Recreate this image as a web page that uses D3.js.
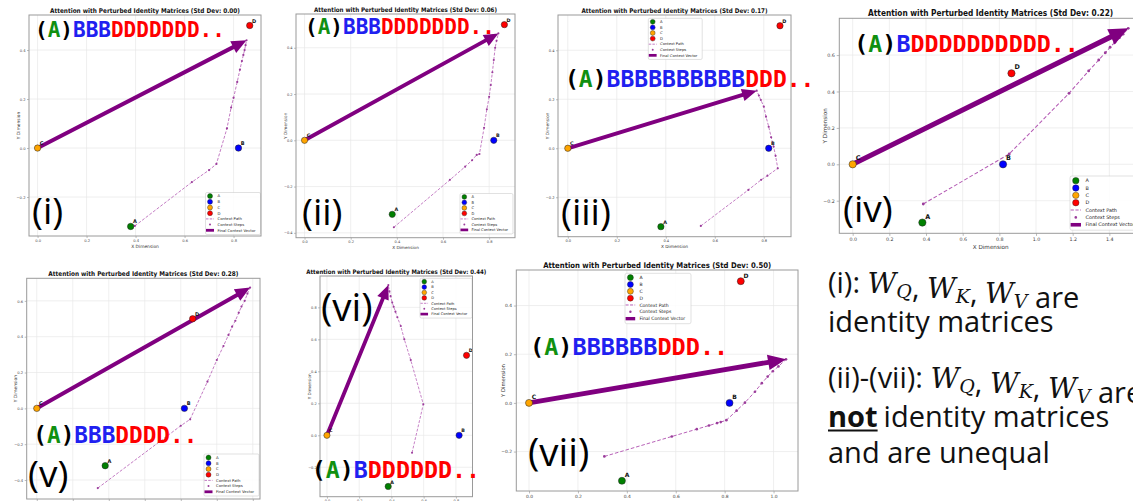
<!DOCTYPE html>
<html>
<head>
<meta charset="utf-8">
<script src="https://cdn.jsdelivr.net/npm/d3@7"></script>
<style>
html, body { margin: 0; padding: 0; background: #fff; overflow: hidden; }
svg { display: block; }
</style>
</head>
<body>
<svg id="fig" width="1133" height="501"></svg>
<script>
// token embeddings (same in every panel)
const tokenNames = ["A", "B", "C", "D"];
const tokenX = [0.38, 0.82, 0.0, 0.866];
const tokenY = [-0.32, 0.0, 0.0, 0.5];

const stdDevs = ["0.00", "0.06", "0.17", "0.22", "0.28", "0.44", "0.50"];
const panelNames = ["(i)", "(ii)", "(iii)", "(iv)", "(v)", "(vi)", "(vii)"];
const sequences = ["(A)BBBDDDDDDD..", "(A)BBBDDDDDDD..", "(A)BBBBBBBBBBDDD..", "(A)BDDDDDDDDDD..",
    "(A)BBBDDDD..", "(A)BDDDDDD..", "(A)BBBBBBDDD.."];
const legendLabels = ["A", "B", "C", "D", "Context Path", "Context Steps", "Final Context Vector"];

// context steps; last step = final context vector
const stepsI = [[0.397, -0.318], [0.63, -0.139], [0.70, -0.09], [0.73, -0.065], [0.773, 0.08], [0.79, 0.165],
    [0.80, 0.205], [0.815, 0.27], [0.826, 0.32], [0.834, 0.355], [0.84, 0.38], [0.845, 0.40], [0.849, 0.42], [0.853, 0.44]];
const stepsII = [[0.387, -0.376], [0.63, -0.171], [0.696, -0.114], [0.726, -0.086], [0.746, -0.063], [0.758, -0.059],
    [0.778, 0.054], [0.79, 0.134], [0.80, 0.188], [0.807, 0.239], [0.814, 0.294], [0.82, 0.347], [0.826, 0.40], [0.832, 0.43], [0.84, 0.462]];
const stepsIII = [[0.543, -0.317], [0.737, -0.17], [0.789, -0.129], [0.815, -0.112], [0.857, -0.082], [0.848, -0.031],
    [0.84, 0.007], [0.83, 0.045], [0.82, 0.088], [0.809, 0.129], [0.80, 0.17], [0.788, 0.197], [0.78, 0.215], [0.771, 0.235]];
const stepsIV = [[0.385, -0.218], [0.854, 0.057], [1.18, 0.39], [1.287, 0.513], [1.342, 0.573], [1.378, 0.613],
    [1.404, 0.643], [1.43, 0.67], [1.455, 0.695], [1.475, 0.715], [1.503, 0.747]];
const stepsV = [[0.339, -0.445], [0.8, -0.097], [0.852, -0.061], [0.948, 0.149], [1.0, 0.27], [1.037, 0.348],
    [1.065, 0.41], [1.085, 0.456], [1.103, 0.489], [1.122, 0.534], [1.137, 0.568], [1.155, 0.60], [1.17, 0.64], [1.185, 0.674]];
const stepsVI = [[0.528, -0.109], [0.598, 0.194], [0.52, 0.47], [0.48, 0.6], [0.458, 0.683], [0.437, 0.738],
    [0.425, 0.773], [0.414, 0.804], [0.405, 0.83], [0.395, 0.87], [0.388, 0.90], [0.381, 0.939]];
const stepsVII = [[0.308, -0.22], [0.584, -0.138], [0.686, -0.108], [0.736, -0.093], [0.769, -0.083], [0.784, -0.079],
    [0.807, -0.071], [0.849, -0.032], [0.883, 0.001], [0.924, 0.046], [0.952, 0.081], [0.976, 0.108], [0.997, 0.13], [1.02, 0.15], [1.051, 0.179]];
const allSteps = [stepsI, stepsII, stepsIII, stepsIV, stepsV, stepsVI, stepsVII];

// where each screenshot sits in the collage
const layout = [
    { frame: [29, 15, 261, 236], xd: [-0.035, 0.912], yd: [-0.359, 0.543], fs: 1.0, legend: [205.5, 192.5], seq: [35, 37, 21], tag: [32, 224, 37] },
    { frame: [296, 14, 515, 237.7], xd: [-0.037, 0.912], yd: [-0.421, 0.546], fs: 0.963, legend: [460, 193.5], seq: [305, 34, 21], tag: [302, 225, 37] },
    { frame: [558, 15, 791, 236.7], xd: [-0.04, 0.911], yd: [-0.361, 0.544], fs: 0.98, legend: [648.3, 18.3], seq: [565, 87.3, 23], tag: [561, 225, 37] },
    { frame: [839.3, 18.3, 1142, 233.3], xd: [-0.073, 1.578], yd: [-0.379, 0.802], fs: 1.29, legend: [1070, 176], seq: [854.3, 52.3, 23.3], tag: [843, 221.5, 37] },
    { frame: [26.7, 278.3, 260, 499], xd: [-0.056, 1.24], yd: [-0.506, 0.726], fs: 1.0, legend: [204, 454], seq: [33.3, 443.3, 22.7], tag: [28, 486.5, 37] },
    { frame: [320, 276, 472.5, 496.7], xd: [-0.043, 0.903], yd: [-0.384, 0.996], fs: 0.947, legend: [420, 278.3], seq: [311.7, 477.5, 23.3], tag: [321, 321, 38.5] },
    { frame: [516.3, 270, 798, 491], xd: [-0.052, 1.100], yd: [-0.362, 0.546], fs: 1.2, legend: [625, 273.3], seq: [530, 355, 23.5], tag: [528, 466, 38.5] }
];

const tokenColor = { A: "#008000", B: "#0000ff", C: "#ffa500", D: "#ff0000" };
const seqColor = { "(": "#000", ")": "#000", A: "#109010", B: "#2020f0", D: "#ff0000", ".": "#ff0000" };
const purple = "#800080";

const svg = d3.select("#fig");
svg.append("rect").attr("width", 1133).attr("height", 501).attr("fill", "#fff");

function arrowPoints(sx, sy, ex, ey, w, hw, hl) {
    const len = Math.hypot(ex - sx, ey - sy);
    const ux = (ex - sx) / len, uy = (ey - sy) / len;
    const nx = -uy, ny = ux;
    const bx = ex - ux * hl, by = ey - uy * hl;
    return [
        [sx + nx * w / 2, sy + ny * w / 2],
        [bx + nx * w / 2, by + ny * w / 2],
        [bx + nx * hw / 2, by + ny * hw / 2],
        [ex, ey],
        [bx - nx * hw / 2, by - ny * hw / 2],
        [bx - nx * w / 2, by - ny * w / 2],
        [sx - nx * w / 2, sy - ny * w / 2]
    ];
}

function drawPanel(k) {
    const L = layout[k], s = L.fs;
    const [x0, y0, x1, y1] = L.frame;
    const steps = allSteps[k];
    const x = d3.scaleLinear().domain(L.xd).range([x0, x1]);
    const y = d3.scaleLinear().domain(L.yd).range([y1, y0]);

    const grid = d3.range(-10, 11).map(i => i / 5);
    const xt = grid.filter(v => v > L.xd[0] + 0.01 && v < L.xd[1] - 0.01);
    const yt = grid.filter(v => v > L.yd[0] + 0.01 && v < L.yd[1] - 0.01);

    const g = svg.append("g");

    g.append("g").selectAll("line").data(xt).join("line")
        .attr("x1", d => x(d)).attr("x2", d => x(d)).attr("y1", y0).attr("y2", y1)
        .attr("stroke", "#e8e8e8").attr("stroke-width", 0.7);
    g.append("g").selectAll("line").data(yt).join("line")
        .attr("y1", d => y(d)).attr("y2", d => y(d)).attr("x1", x0).attr("x2", x1)
        .attr("stroke", "#e8e8e8").attr("stroke-width", 0.7);

    const fmt = d3.format(".1f");
    const xa = g.append("g").attr("transform", `translate(0,${y1})`)
        .call(d3.axisBottom(x).tickValues(xt).tickFormat(fmt).tickSize(2 * s).tickPadding(1.2 * s));
    const ya = g.append("g").attr("transform", `translate(${x0},0)`)
        .call(d3.axisLeft(y).tickValues(yt).tickFormat(fmt).tickSize(2 * s).tickPadding(1.5 * s));
    [xa, ya].forEach(a => {
        a.select(".domain").remove();
        a.attr("font-size", 3.7 * s).attr("font-family", "DejaVu Sans");
        a.selectAll("line").attr("stroke", "#777").attr("stroke-width", 0.5);
        a.selectAll("text").attr("fill", "#444");
    });

    g.append("text").attr("x", (x0 + x1) / 2).attr("y", y1 + 12 * s)
        .attr("text-anchor", "middle").attr("font-family", "DejaVu Sans").attr("font-size", 4.4 * s)
        .attr("fill", "#333").text("X Dimension");
    g.append("text").attr("transform", `translate(${x0 - 9.5 * s},${(y0 + y1) / 2}) rotate(-90)`)
        .attr("text-anchor", "middle").attr("font-family", "DejaVu Sans").attr("font-size", 4.4 * s)
        .attr("fill", "#333").text("Y Dimension");

    g.append("text").attr("x", (x0 + x1) / 2).attr("y", y0 - 2 * s)
        .attr("text-anchor", "middle").attr("font-family", "DejaVu Sans").attr("font-weight", "bold")
        .attr("font-size", 6.5 * s).attr("fill", "#111")
        .attr("textLength", 190 * s).attr("lengthAdjust", "spacingAndGlyphs")
        .text(`Attention with Perturbed Identity Matrices (Std Dev: ${stdDevs[k]})`);

    // context path + steps
    const line = d3.line().x(d => x(d[0])).y(d => y(d[1]));
    g.append("path").datum(steps).attr("d", line).attr("fill", "none")
        .attr("stroke", "#b45ab4").attr("stroke-width", 0.8 * s)
        .attr("stroke-dasharray", `${3 * s},${1.6 * s}`);
    g.append("g").selectAll("circle").data(steps).join("circle")
        .attr("cx", d => x(d[0])).attr("cy", d => y(d[1])).attr("r", 1.1 * s)
        .attr("fill", "#9b3d9b");

    // final context vector from C
    const tip = steps[steps.length - 1];
    const pts = arrowPoints(x(0), y(0), x(tip[0]), y(tip[1]), 4 * s, 13 * s, 15 * s);
    g.append("polygon").attr("points", pts.map(p => p.join(",")).join(" "))
        .attr("fill", purple);

    // tokens
    const r = 3.2 * Math.sqrt(s);
    tokenNames.forEach((n, i) => {
        g.append("circle").attr("cx", x(tokenX[i])).attr("cy", y(tokenY[i])).attr("r", r)
            .attr("fill", tokenColor[n]).attr("stroke", "#222").attr("stroke-width", 0.5);
        g.append("text").attr("x", x(tokenX[i]) + 2.3 * s).attr("y", y(tokenY[i]) - 3 * s)
            .attr("font-family", "DejaVu Sans").attr("font-weight", "bold").attr("font-size", 5 * s)
            .attr("fill", "#111").text(n);
    });

    // legend
    const [lx, ly] = L.legend;
    const lg = g.append("g").attr("transform", `translate(${lx},${ly})`);
    lg.append("rect").attr("width", 55 * s).attr("height", 42 * s).attr("rx", 1.5 * s)
        .attr("fill", "#fff").attr("fill-opacity", 0.85).attr("stroke", "#ccc").attr("stroke-width", 0.6);
    legendLabels.forEach((lab, i) => {
        const cy = (3.6 + i * 5.7) * s, hx = 4.5 * s;
        if (i < 4) {
            lg.append("circle").attr("cx", hx).attr("cy", cy).attr("r", 2.5 * s)
                .attr("fill", tokenColor[lab]).attr("stroke", "#222").attr("stroke-width", 0.4);
        } else if (i === 4) {
            lg.append("line").attr("x1", hx - 4 * s).attr("x2", hx + 4 * s).attr("y1", cy).attr("y2", cy)
                .attr("stroke", "#b45ab4").attr("stroke-width", 0.8 * s).attr("stroke-dasharray", `${2.5 * s},${1.2 * s}`);
        } else if (i === 5) {
            lg.append("circle").attr("cx", hx).attr("cy", cy).attr("r", 1 * s).attr("fill", "#9b3d9b");
        } else {
            lg.append("rect").attr("x", hx - 4 * s).attr("y", cy - 1.4 * s).attr("width", 8 * s).attr("height", 2.8 * s)
                .attr("fill", purple);
        }
        lg.append("text").attr("x", 12 * s).attr("y", cy + 1.3 * s)
            .attr("font-family", "DejaVu Sans").attr("font-size", 3.8 * s).attr("fill", "#222").text(lab);
    });

    g.append("rect").attr("x", x0).attr("y", y0).attr("width", x1 - x0).attr("height", y1 - y0)
        .attr("fill", "none").attr("stroke", "#9a9a9a").attr("stroke-width", 1);
}

d3.range(layout.length).forEach(drawPanel);

// big overlay annotations
layout.forEach((L, k) => {
    const [sx, sy, sz] = L.seq;
    const t = svg.append("text").attr("x", sx).attr("y", sy)
        .attr("font-family", "DejaVu Sans Mono").attr("font-weight", "bold").attr("font-size", sz);
    t.selectAll("tspan").data(sequences[k].split("")).join("tspan")
        .attr("fill", c => seqColor[c]).text(c => c);

    const [tx, ty, tz] = L.tag;
    svg.append("text").attr("x", tx).attr("y", ty).attr("font-family", "Open Sans")
        .attr("font-size", tz).attr("fill", "#000").text(panelNames[k]);
});

// explanation on the right
const noteX = 828;
const noteSize = 29;
function mathLine(yb, parts) {
    const t = svg.append("text").attr("x", noteX).attr("y", yb)
        .attr("font-family", "Open Sans").attr("font-size", noteSize).attr("fill", "#111");
    parts.forEach(p => {
        if (typeof p === "string") {
            t.append("tspan").text(p);
        } else {
            t.append("tspan").attr("font-family", "DejaVu Serif").attr("font-style", "italic")
                .attr("font-size", 28).text(p[0]);
            t.append("tspan").attr("font-family", "DejaVu Serif").attr("font-style", "italic")
                .attr("font-size", 19).attr("dy", 5).text(p[1]);
            t.append("tspan").attr("dy", -5).text("");
        }
    });
    return t;
}
mathLine(293.3, ["(i): ", ["W", "Q"], ", ", ["W", "K"], ", ", ["W", "V"], " are"]);
mathLine(331.7, ["identity matrices"]);
mathLine(388.3, ["(ii)-(vii): ", ["W", "Q"], ", ", ["W", "K"], ", ", ["W", "V"], " are"]);
const notT = svg.append("text").attr("x", noteX).attr("y", 426.7).attr("font-family", "Open Sans")
    .attr("font-size", noteSize).attr("font-weight", "bold").attr("fill", "#111").text("not");
const notW = notT.node().getComputedTextLength();
svg.append("line").attr("x1", noteX).attr("x2", noteX + notW).attr("y1", 430.5).attr("y2", 430.5)
    .attr("stroke", "#111").attr("stroke-width", 1.8);
svg.append("text").attr("x", noteX + notW + 6).attr("y", 426.7).attr("font-family", "Open Sans")
    .attr("font-size", noteSize).attr("fill", "#111").text("identity matrices");
mathLine(463.3, ["and are unequal"]);
</script>
</body>
</html>
